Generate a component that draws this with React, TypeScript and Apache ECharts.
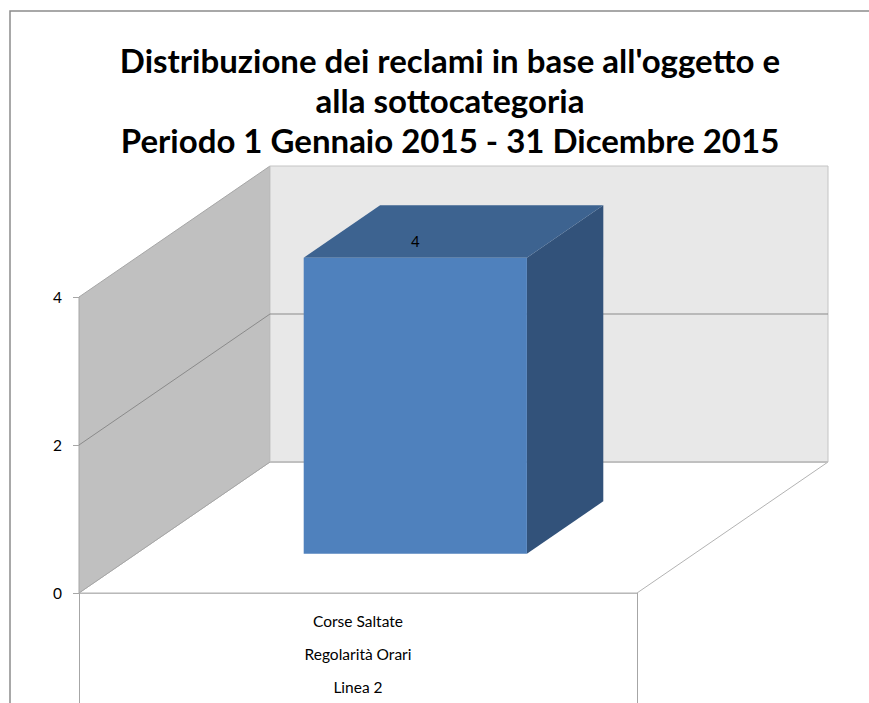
import React, { useEffect, useRef } from "react";
import * as echarts from "echarts";

// ---- data ----
const oggetti = ["Corse Saltate"];
const sottocategorie = ["Regolarità Orari"];
const linee = ["Linea 2"];
const reclami = [4];
const yTicks = [0, 2, 4];
const titleLines = [
  "Distribuzione dei reclami in base all'oggetto e",
  "alla sottocategoria",
  "Periodo 1 Gennaio 2015 - 31 Dicembre 2015",
];

const categories = oggetti.map((o, i) => `${o}\n${sottocategorie[i]}\n${linee[i]}`);

// ---- 3D look ----
const DX = 191;
const DY = -131;
const BAR_FRONT = 0.3;
const BAR_BACK = 0.7;
const BAR_WIDTH = 0.4;
const FONT = "Lato, 'Open Sans', sans-serif";

export default function App() {
  const ref = useRef<HTMLDivElement>(null);
  useEffect(() => {
    if (!ref.current) return;
    const chart = echarts.init(ref.current, null, { renderer: "svg" });
    const yMin = yTicks[0];
    const yMax = yTicks[yTicks.length - 1];

    const wallsRender = (params: any, api: any) => {
      const n = categories.length;
      const bw = api.size([1, 0])[0];
      const left = api.coord([0, yMin])[0] - bw / 2;
      const right = api.coord([n - 1, yMin])[0] + bw / 2;
      const yBot = api.coord([0, yMin])[1];
      const yTop = api.coord([0, yMax])[1];
      const children: any[] = [];
      // floor
      children.push({
        type: "polygon",
        shape: { points: [[left, yBot], [left + DX, yBot + DY], [right + DX, yBot + DY], [right, yBot]] },
        style: { fill: "#ffffff", stroke: "#b3b3b3", lineWidth: 1 },
      });
      // side wall
      children.push({
        type: "polygon",
        shape: { points: [[left, yTop], [left + DX, yTop + DY], [left + DX, yBot + DY], [left, yBot]] },
        style: { fill: "#c0c0c0", stroke: "#a6a6a6", lineWidth: 1 },
      });
      // back wall
      children.push({
        type: "rect",
        shape: { x: left + DX, y: yTop + DY, width: right - left, height: yBot - yTop },
        style: { fill: "#e8e8e8", stroke: "#c4c4c4", lineWidth: 1 },
      });
      // floor back edge
      children.push({
        type: "line",
        shape: { x1: left + DX, y1: yBot + DY, x2: right + DX, y2: yBot + DY },
        style: { stroke: "#c0c0c0", lineWidth: 2 },
      });
      // gridlines
      yTicks.forEach((t) => {
        if (t === yMin || t === yMax) return;
        const y = api.coord([0, t])[1];
        children.push({
          type: "polyline",
          shape: { points: [[left, y], [left + DX, y + DY], [right + DX, y + DY]] },
          style: { stroke: "#8a8a8a", lineWidth: 1, fill: null },
        });
      });
      return { type: "group", children };
    };

    const barRender = (params: any, api: any) => {
      const i = api.value(0);
      const v = api.value(1);
      const top = api.coord([i, v]);
      const base = api.coord([i, yMin]);
      const bw = api.size([1, 0])[0] * BAR_WIDTH;
      const xl = top[0] - bw / 2;
      const xr = top[0] + bw / 2;
      const yt = top[1];
      const yb = base[1];
      const f0x = BAR_FRONT * DX, f0y = BAR_FRONT * DY;
      const f1x = BAR_BACK * DX, f1y = BAR_BACK * DY;
      return {
        type: "group",
        children: [
          {
            type: "polygon",
            shape: { points: [[xr + f0x, yt + f0y], [xr + f1x, yt + f1y], [xr + f1x, yb + f1y], [xr + f0x, yb + f0y]] },
            style: { fill: "#32527a" },
          },
          {
            type: "polygon",
            shape: { points: [[xl + f0x, yt + f0y], [xr + f0x, yt + f0y], [xr + f1x, yt + f1y], [xl + f1x, yt + f1y]] },
            style: { fill: "#3d6390" },
          },
          {
            type: "rect",
            shape: { x: xl + f0x, y: yt + f0y, width: xr - xl, height: yb - yt },
            style: { fill: "#4f81bd" },
          },
          {
            type: "text",
            x: top[0] + f0x,
            y: yt + f0y - 17,
            style: {
              text: String(v),
              align: "center",
              verticalAlign: "middle",
              fill: "#000000",
              font: `15px ${FONT}`,
            },
          },
        ],
      };
    };

    chart.setOption({
      animation: false,
      backgroundColor: "#ffffff",
      title: {
        text: titleLines.join("\n"),
        left: 450,
        top: 40,
        textAlign: "center",
        padding: 0,
        textStyle: {
          fontFamily: FONT,
          fontWeight: "bold",
          fontSize: 33,
          lineHeight: 40,
          color: "#000000",
        },
      },
      graphic: [
        {
          type: "rect",
          shape: { x: 10, y: 11, width: 1000, height: 1000 },
          style: { fill: "none", stroke: "#8c8c8c", lineWidth: 1.5 },
          z: -10,
        },
      ],
      grid: { left: 79, top: 297, right: 232, bottom: 104, containLabel: false },
      xAxis: {
        type: "category",
        data: categories,
        boundaryGap: true,
        axisLine: { show: true, lineStyle: { color: "#bfbfbf", width: 1 } },
        axisTick: { show: true, length: 110, lineStyle: { color: "#a6a6a6" } },
        axisLabel: {
          margin: 11,
          lineHeight: 33,
          fontSize: 15.5,
          fontFamily: FONT,
          color: "#000000",
        },
        splitLine: { show: false },
      },
      yAxis: {
        type: "value",
        min: yMin,
        max: yMax,
        interval: 2,
        axisLine: { show: true, lineStyle: { color: "#a6a6a6" } },
        axisTick: { show: true, length: 6, lineStyle: { color: "#a6a6a6" } },
        axisLabel: { margin: 17, fontSize: 15.5, fontFamily: FONT, color: "#000000" },
        splitLine: { show: false },
      },
      series: [
        {
          type: "custom",
          renderItem: wallsRender,
          data: [[0, 0]],
          z: 1,
          silent: true,
        },
        {
          type: "custom",
          renderItem: barRender,
          data: reclami.map((v, i) => [i, v]),
          z: 3,
        },
      ],
    });
    return () => chart.dispose();
  }, []);
  return (
    <div
      ref={ref}
      style={{ position: "fixed", left: 0, top: 0, width: 869, height: 703 }}
    />
  );
}
